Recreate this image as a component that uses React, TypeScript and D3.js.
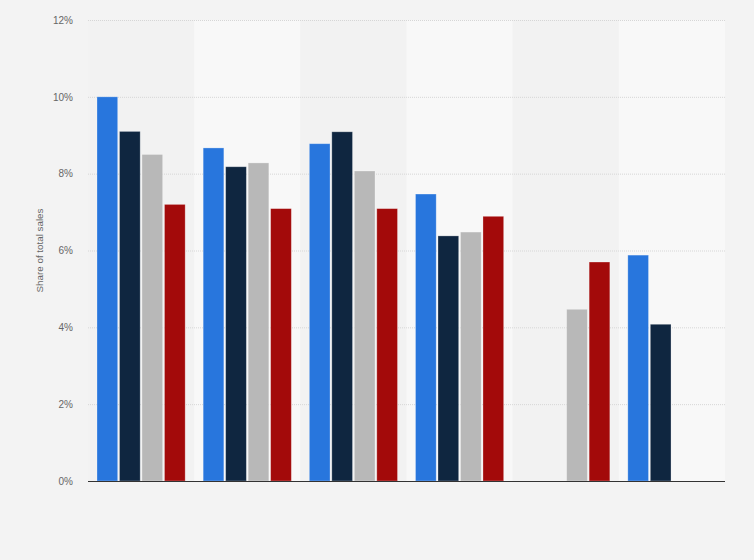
import * as d3 from 'd3';
import React, { useRef, useEffect } from 'react';

// groups have no visible labels in the picture
const groups = ['G1', 'G2', 'G3', 'G4', 'G5', 'G6'];
const seriesNames = ['Series A', 'Series B', 'Series C', 'Series D'];
const seriesA = [10.0, 8.67, 8.78, 7.47, null, 5.88];
const seriesB = [9.1, 8.18, 9.09, 6.38, null, 4.08];
const seriesC = [8.5, 8.28, 8.07, 6.48, 4.47, null];
const seriesD = [7.2, 7.09, 7.09, 6.89, 5.7, null];
const seriesColors = ['#2876dd', '#0f2640', '#b8b8b8', '#a30a0a'];
const yTicks = [0, 2, 4, 6, 8, 10, 12];

const width = 754;
const height = 560;
const margin = { top: 20, right: 29, bottom: 79, left: 88 };

function App(): any {
  const ref = useRef(null);

  useEffect(() => {
    const svg = d3.select(ref.current);
    svg.selectAll('*').remove();

    const values = [seriesA, seriesB, seriesC, seriesD];

    const xScale = d3.scaleBand()
      .domain(groups)
      .range([margin.left, width - margin.right]);

    const xInner = d3.scaleBand()
      .domain(seriesNames)
      .range([0, xScale.bandwidth()])
      .paddingInner(0.08)
      .paddingOuter(0.4);

    const yScale = d3.scaleLinear()
      .domain([0, 12])
      .range([height - margin.bottom, margin.top]);

    svg.append('rect')
      .attr('width', width)
      .attr('height', height)
      .attr('fill', '#f3f3f3');

    // alternating column bands
    svg.append('g')
      .selectAll('rect')
      .data(groups)
      .join('rect')
      .attr('x', (d: string) => xScale(d) as number)
      .attr('y', margin.top)
      .attr('width', xScale.bandwidth())
      .attr('height', height - margin.bottom - margin.top)
      .attr('fill', (_: string, i: number) => (i % 2 === 0 ? '#f2f2f2' : '#f8f8f8'));

    // grid
    svg.append('g')
      .selectAll('line')
      .data(yTicks.filter((t) => t > 0))
      .join('line')
      .attr('x1', margin.left)
      .attr('x2', width - margin.right)
      .attr('y1', (d: number) => yScale(d) + 0.5)
      .attr('y2', (d: number) => yScale(d) + 0.5)
      .attr('stroke', '#d6d6d6')
      .attr('stroke-dasharray', '1,1');

    // y axis labels
    const yAxis = svg.append('g')
      .attr('transform', 'translate(' + margin.left + ',0)')
      .call(d3.axisLeft(yScale).tickValues(yTicks).tickFormat((d: any) => d + '%').tickSize(0).tickPadding(15));
    yAxis.select('.domain').remove();
    yAxis.selectAll('text')
      .attr('fill', '#666')
      .style('font-family', '"Liberation Sans", Arial, sans-serif')
      .style('font-size', '10px');

    svg.append('text')
      .attr('transform', 'translate(43,' + (margin.top + (height - margin.bottom - margin.top) / 2) + ') rotate(-90)')
      .attr('text-anchor', 'middle')
      .attr('fill', '#666')
      .style('font-family', '"Liberation Sans", Arial, sans-serif')
      .style('font-size', '9.8px')
      .text('Share of total sales');

    // bars
    values.forEach((vals, s) => {
      svg.append('g')
        .selectAll('rect')
        .data(vals.map((v, i) => ({ v, g: groups[i] })).filter((d) => d.v !== null))
        .join('rect')
        .attr('x', (d: any) => (xScale(d.g) as number) + (xInner(seriesNames[s]) as number))
        .attr('y', (d: any) => yScale(d.v))
        .attr('width', xInner.bandwidth())
        .attr('height', (d: any) => yScale(0) - yScale(d.v))
        .attr('fill', seriesColors[s])
        .attr('stroke', 'rgba(255,255,255,0.35)')
        .attr('stroke-width', 0.8);
    });

    // baseline
    svg.append('line')
      .attr('x1', margin.left)
      .attr('x2', width - margin.right)
      .attr('y1', yScale(0) + 0.5)
      .attr('y2', yScale(0) + 0.5)
      .attr('stroke', '#333')
      .attr('stroke-width', 1.2);
  }, []);

  return (
    <svg
      ref={ref}
      width={width}
      height={height}
      style={{ position: 'absolute', left: 0, top: 0, display: 'block' }}
    />
  );
}

export default App;
